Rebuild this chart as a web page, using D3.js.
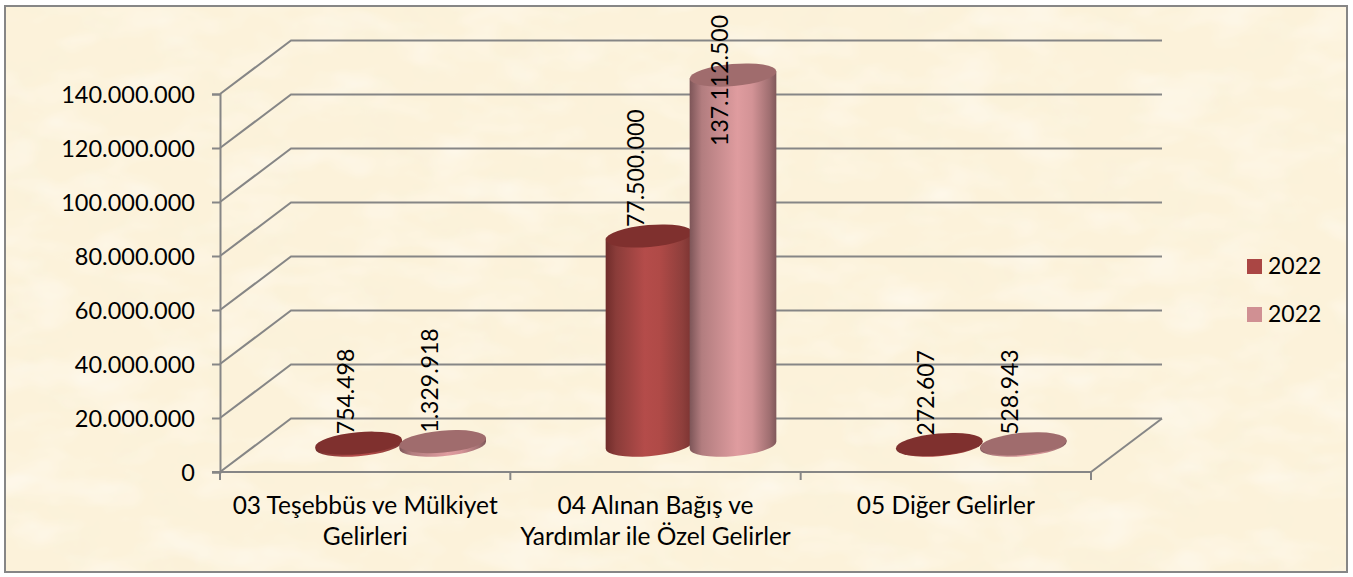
<!DOCTYPE html>
<html>
<head>
<meta charset="utf-8">
<script src="https://cdn.jsdelivr.net/npm/d3@7"></script>
<style>
html, body { margin: 0; padding: 0; background: #fff; }
svg { display: block; }
text { font-family: Lato, "Open Sans", sans-serif; fill: #000; }
</style>
</head>
<body>
<div id="chart"></div>
<script>
// data
var categories = ['03 Teşebbüs ve Mülkiyet Gelirleri', '04 Alınan Bağış ve Yardımlar ile Özel Gelirler', '05 Diğer Gelirler'];
var categoryLines = [['03 Teşebbüs ve Mülkiyet', 'Gelirleri'], ['04 Alınan Bağış ve', 'Yardımlar ile Özel Gelirler'], ['05 Diğer Gelirler']];
var seriesNames = ['2022', '2022'];
var seriesA = [754498, 77500000, 272607];
var seriesB = [1329918, 137112500, 528943];
var yTicks = [0, 20000000, 40000000, 60000000, 80000000, 100000000, 120000000, 140000000];

var width = 1353, height = 577;
var left = 220, right = 1091, bottom = 472, top_ = 94;
var depthX = 71, depthY = -53.5;   // shift from front of the floor to the back wall
var rx = 43.5, ry = 11, tilt = -5;
var fontSize = 23;

var tr = d3.formatLocale({decimal: ',', thousands: '.', grouping: [3], currency: ['', '']});
var fmt = tr.format(',d');

var svg = d3.select('#chart').append('svg').attr('width', width).attr('height', height);
var defs = svg.append('defs');

// parchment background
var paper = defs.append('filter').attr('id', 'paper')
    .attr('x', 0).attr('y', 0).attr('width', 1).attr('height', 1);
paper.append('feTurbulence').attr('type', 'fractalNoise').attr('baseFrequency', '0.02 0.024')
    .attr('numOctaves', 4).attr('seed', 7).attr('result', 'n');
paper.append('feColorMatrix').attr('in', 'n').attr('type', 'matrix')
    .attr('values', '0 0 0 0 0.95  0 0 0 0 0.87  0 0 0 0 0.68  0.6 0 0 0 -0.24').attr('result', 'tan');
paper.append('feComposite').attr('in', 'tan').attr('in2', 'SourceGraphic').attr('operator', 'over');

var paperLight = defs.append('filter').attr('id', 'paperLight')
    .attr('x', 0).attr('y', 0).attr('width', 1).attr('height', 1);
paperLight.append('feTurbulence').attr('type', 'fractalNoise').attr('baseFrequency', '0.014 0.028')
    .attr('numOctaves', 3).attr('seed', 21).attr('result', 'n');
paperLight.append('feColorMatrix').attr('in', 'n').attr('type', 'matrix')
    .attr('values', '0 0 0 0 1  0 0 0 0 0.97  0 0 0 0 0.92  0 1.2 0 0 -0.52');

svg.append('rect').attr('x', 5).attr('y', 6).attr('width', 1342).attr('height', 566)
    .attr('fill', '#fcf2da').attr('filter', 'url(#paper)');
svg.append('rect').attr('x', 5).attr('y', 6).attr('width', 1342).attr('height', 566)
    .attr('filter', 'url(#paperLight)');
svg.append('rect').attr('x', 5).attr('y', 6).attr('width', 1342).attr('height', 566)
    .attr('fill', 'none').attr('stroke', '#868686').attr('stroke-width', 2);

// scales
var y = d3.scaleLinear().domain([0, 140000000]).range([bottom, top_]);
var x0 = d3.scaleBand().domain(categories).range([left, right]);
var x1 = d3.scaleBand().domain([0, 1]).range([x0.bandwidth() / 2 - 84, x0.bandwidth() / 2 + 84]);
var gridColor = '#868686';

// walls: back gridlines and the slanted part on the side wall
var grid = svg.append('g').attr('fill', 'none').attr('stroke', gridColor).attr('stroke-width', 2);
grid.selectAll('path').data(yTicks).enter().append('path')
    .attr('d', function(d) {
        return 'M' + left + ',' + y(d) + 'L' + (left + depthX) + ',' + (y(d) + depthY) + 'L' + (right + depthX + 0) + ',' + (y(d) + depthY);
    });
grid.append('path').attr('d', 'M' + right + ',' + bottom + 'L' + (right + depthX) + ',' + (bottom + depthY));

// y axis
var yAxis = svg.append('g').attr('transform', 'translate(' + left + ',0)')
    .call(d3.axisLeft(y).tickValues(yTicks).tickFormat(fmt).tickSize(8).tickPadding(17));
yAxis.select('.domain').attr('stroke', gridColor).attr('stroke-width', 2);
yAxis.selectAll('.tick line').attr('stroke', gridColor).attr('stroke-width', 2);
yAxis.selectAll('text').attr('y', 1).style('font-size', '23.5px').style('font-family', 'Lato');

// x axis, ticks sit on the band edges
var edges = categories.map(function(c) { return x0(c); }).concat([right]);
var xAxisG = svg.append('g').attr('stroke', gridColor).attr('stroke-width', 2);
xAxisG.append('line').attr('x1', left - 8).attr('x2', right).attr('y1', bottom).attr('y2', bottom);
xAxisG.selectAll('.tk').data(edges).enter().append('line').attr('class', 'tk')
    .attr('x1', function(d) { return d; }).attr('x2', function(d) { return d; })
    .attr('y1', bottom).attr('y2', bottom + 8);

var catLabels = svg.append('g').selectAll('text').data(categories).enter().append('text')
    .attr('text-anchor', 'middle').style('font-size', '24.5px')
    .attr('transform', function(c) { return 'translate(' + (x0(c) + x0.bandwidth() / 2) + ',514)'; });
catLabels.selectAll('tspan').data(function(c, i) { return categoryLines[i]; }).enter().append('tspan')
    .attr('x', 0).attr('dy', function(d, i) { return i ? 31 : 0; }).text(function(d) { return d; });

// cylinder gradients
function gradient(id, stops) {
    var g = defs.append('linearGradient').attr('id', id);
    stops.forEach(function(s) { g.append('stop').attr('offset', s[0]).attr('stop-color', s[1]); });
}
gradient('bodyA', [[0, '#6f2c2a'], [0.12, '#8a3c39'], [0.45, '#b44c4a'], [0.62, '#b04a47'], [0.88, '#8f3f3c'], [1, '#7a3331']]);
gradient('bodyB', [[0, '#7d5558'], [0.14, '#b27d7f'], [0.55, '#df9c9f'], [0.72, '#d39396'], [0.92, '#a06f71'], [1, '#80585a']]);
var topColor = ['#7f302e', '#a06c6d'];
var bodyId = ['bodyA', 'bodyB'];

// extreme left/right point of the tilted ellipse
var phi = tilt * Math.PI / 180;
var t0 = Math.atan(-(ry / rx) * Math.tan(phi));
var ex = rx * Math.cos(t0) * Math.cos(phi) - ry * Math.sin(t0) * Math.sin(phi);
var ey = rx * Math.cos(t0) * Math.sin(phi) + ry * Math.sin(t0) * Math.cos(phi);

var groups = [];
categories.forEach(function(c, i) {
    groups.push({c: c, s: 0, v: seriesA[i]});
    groups.push({c: c, s: 1, v: seriesB[i]});
});

function cx(d) { return x0(d.c) + x1(d.s) + x1.bandwidth() / 2 + depthX / 2; }
function baseY() { return bottom + depthY / 2; }
function topY(d) { return y(d.v) + depthY / 2; }

var bars = svg.append('g').selectAll('g').data(groups).enter().append('g');
bars.append('path')
    .attr('fill', function(d) { return 'url(#' + bodyId[d.s] + ')'; })
    .attr('d', function(d) {
        var x = cx(d), b = baseY(), t = topY(d);
        return 'M' + (x - ex) + ',' + (t - ey) + 'L' + (x - ex) + ',' + (b - ey)
            + 'A' + rx + ',' + ry + ' ' + tilt + ' 0 0 ' + (x + ex) + ',' + (b + ey)
            + 'L' + (x + ex) + ',' + (t + ey) + 'Z';
    });
bars.append('ellipse')
    .attr('rx', rx).attr('ry', ry)
    .attr('fill', function(d) { return topColor[d.s]; })
    .attr('transform', function(d) { return 'translate(' + cx(d) + ',' + topY(d) + ') rotate(' + tilt + ')'; });

// data labels, the tall one is pulled down so it stays inside the chart
var labels = svg.append('g').selectAll('text').data(groups).enter().append('text')
    .style('font-size', fontSize + 'px')
    .text(function(d) { return fmt(d.v); });
labels.attr('transform', function(d) {
    var len = this.getComputedTextLength();
    var base = Math.max(topY(d) - 9, 15 + len);
    return 'translate(' + (cx(d) - 5) + ',' + base + ') rotate(-90)';
});

// legend
var legend = svg.append('g').selectAll('g').data(seriesNames).enter().append('g')
    .attr('transform', function(d, i) { return 'translate(1247,' + (259 + i * 48) + ')'; });
legend.append('rect').attr('width', 15).attr('height', 15)
    .attr('fill', function(d, i) { return ['#aa4644', '#d09093'][i]; });
legend.append('text').attr('x', 21).attr('y', 15).style('font-size', fontSize + 'px')
    .text(function(d) { return d; });
</script>
</body>
</html>
